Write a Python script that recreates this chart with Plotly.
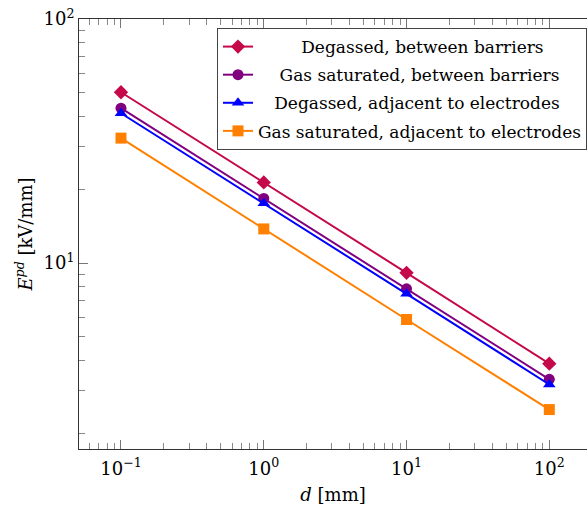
import plotly.graph_objects as go
import math

d_mm = [0.1, 1, 10, 100]
deg_between = [50.1, 21.4, 9.12, 3.87]
gas_between = [43.1, 18.4, 7.84, 3.34]
deg_adjacent = [41.1, 17.6, 7.48, 3.18]
gas_adjacent = [32.5, 13.8, 5.87, 2.51]

names = [
    "&nbsp;" * 8 + "Degassed, between barriers",
    "&nbsp;" * 4 + "Gas saturated, between barriers",
    "&nbsp;" * 3 + "Degassed, adjacent to electrodes",
    "Gas saturated, adjacent to electrodes",
]
series = [deg_between, gas_between, deg_adjacent, gas_adjacent]
colors = ["#C4084A", "#800080", "#0000FF", "#FF8000"]
symbols = ["diamond", "circle", "triangle-up", "square"]
sizes = [11, 11, 11, 11]

FONT = "'DejaVu Serif', serif"

fig = go.Figure()
for i, (nm, ys) in enumerate(zip(names, series)):
    fig.add_trace(go.Scatter(
        x=d_mm, y=ys, name=nm, mode="lines+markers",
        line=dict(color=colors[i], width=2),
        marker=dict(symbol=symbols[i], size=sizes[i], color=colors[i]),
        legendgroup=str(i),
    ))

minor_x = [m * 10 ** e for e in range(-2, 3) for m in range(2, 10)]
minor_y = [m * 10 ** e for e in range(0, 3) for m in range(2, 10)]

fig.update_layout(
    width=587, height=512,
    margin=dict(l=79, r=0, t=19, b=63),
    paper_bgcolor="white", plot_bgcolor="white",
    font=dict(family=FONT, size=18, color="black"),
    showlegend=True,
    legend=dict(
        x=0.2717, y=0.979, xanchor="left", yanchor="top",
        bgcolor="white", bordercolor="#444", borderwidth=1,
        font=dict(family=FONT, size=17),
        tracegroupgap=3,
    ),
    xaxis=dict(
        type="log", range=[math.log10(0.0508), 2.264],
        showgrid=False, zeroline=False,
        showline=True, linecolor="#333", linewidth=1, mirror="allticks",
        ticks="inside", ticklen=9, tickcolor="#777",
        ticklabelstandoff=3,
        tickvals=[0.1, 1, 10, 100],
        ticktext=["10<sup>−1</sup>", "10<sup>0</sup>", "10<sup>1</sup>", "10<sup>2</sup>"],
        minor=dict(tickvals=minor_x, ticks="inside", ticklen=6, tickcolor="#888"),
        title=dict(text="<i>d</i> [mm]", standoff=10, font=dict(size=18)),
    ),
    yaxis=dict(
        type="log", range=[math.log10(1.73), 2.0],
        showgrid=False, zeroline=False,
        showline=True, linecolor="#333", linewidth=1, mirror=False,
        ticks="inside", ticklen=9, tickcolor="#777",
        tickvals=[10, 100],
        ticktext=["10<sup>1</sup>", "10<sup>2</sup>"],
        minor=dict(tickvals=minor_y, ticks="inside", ticklen=6, tickcolor="#888"),
        title=dict(text="<i>E</i><sup><i>pd</i></sup> [kV/mm]", standoff=6, font=dict(size=18)),
    ),
)

fig.write_html("out.html")
